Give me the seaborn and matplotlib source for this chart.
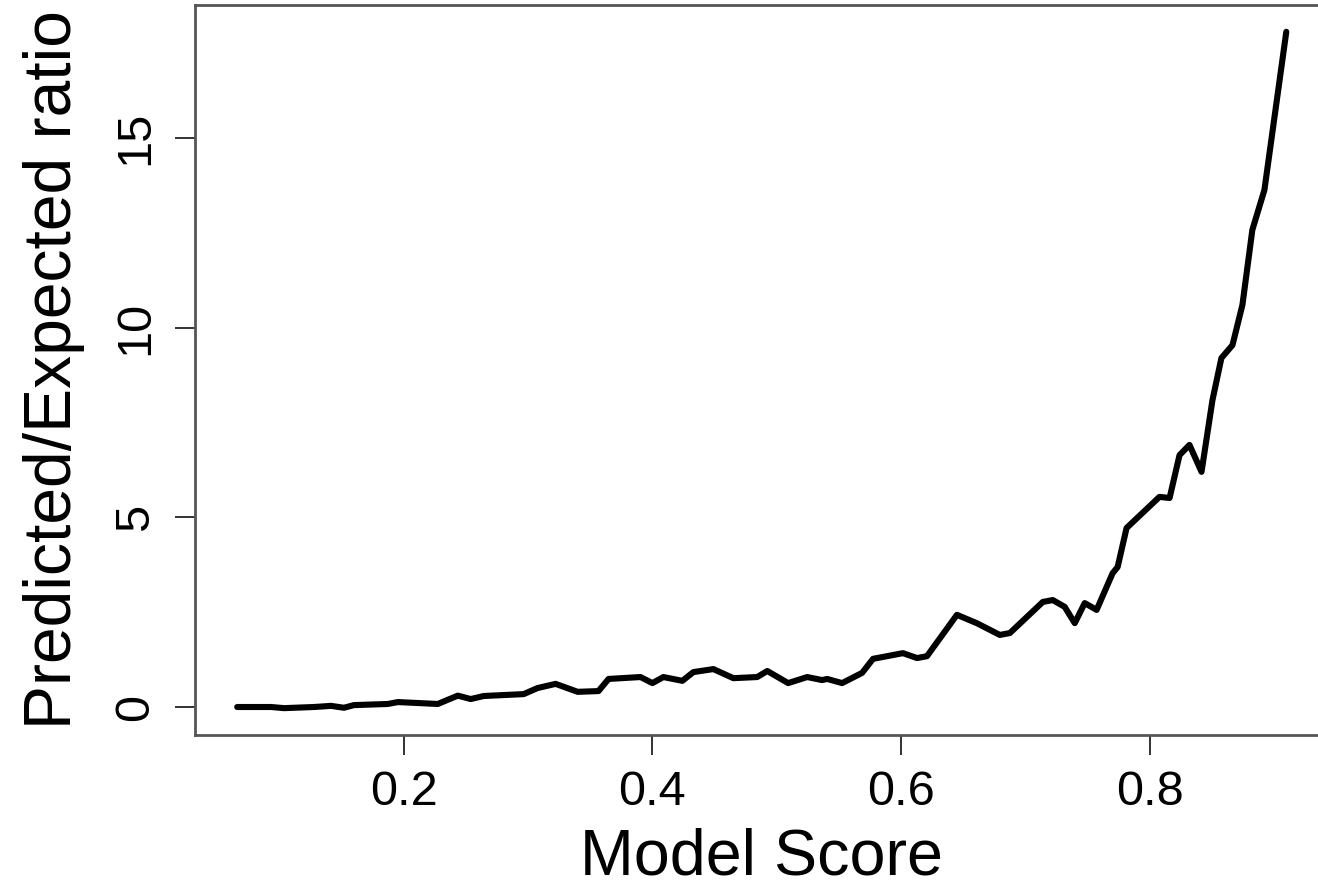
import matplotlib
matplotlib.use("Agg")
import matplotlib.pyplot as plt
import seaborn as sns
import pandas as pd

model_score = [0.0659, 0.0932, 0.1036, 0.1277, 0.1414, 0.1518, 0.1598, 0.1871, 0.1952, 0.2273,
               0.2434, 0.2538, 0.2643, 0.2964, 0.3076, 0.3221, 0.3398, 0.3566, 0.3647, 0.3904,
               0.4000, 0.4088, 0.4241, 0.4329, 0.4490, 0.4651, 0.4843, 0.4924, 0.5092, 0.5245,
               0.5365, 0.5406, 0.5526, 0.5687, 0.5775, 0.6016, 0.6129, 0.6209, 0.6450, 0.6610,
               0.6795, 0.6876, 0.7141, 0.7221, 0.7317, 0.7398, 0.7478, 0.7574, 0.7703, 0.7743,
               0.7815, 0.8080, 0.8161, 0.8241, 0.8321, 0.8418, 0.8506, 0.8578, 0.8667, 0.8747,
               0.8827, 0.8924, 0.9100]
ratio = [0.00, 0.00, -0.03, 0.00, 0.03, -0.02, 0.05, 0.08, 0.13, 0.08,
         0.30, 0.21, 0.29, 0.34, 0.50, 0.61, 0.40, 0.42, 0.74, 0.79,
         0.63, 0.79, 0.69, 0.92, 1.00, 0.76, 0.79, 0.95, 0.63, 0.79,
         0.71, 0.74, 0.63, 0.90, 1.27, 1.42, 1.29, 1.34, 2.43, 2.21,
         1.90, 1.95, 2.77, 2.82, 2.64, 2.21, 2.74, 2.56, 3.53, 3.69,
         4.72, 5.54, 5.51, 6.64, 6.91, 6.20, 8.09, 9.20, 9.54, 10.60,
         12.58, 13.63, 17.80]
x_ticks = [0.2, 0.4, 0.6, 0.8]
x_tick_labels = ["0.2", "0.4", "0.6", "0.8"]
y_ticks = [0, 5, 10, 15]
y_tick_labels = ["0", "5", "10", "15"]

sns.set_style("white")
plt.rcParams["font.family"] = ["Liberation Sans", "DejaVu Sans"]
plt.rcParams["text.color"] = "black"
plt.rcParams["axes.labelcolor"] = "black"
plt.rcParams["xtick.color"] = "black"
plt.rcParams["ytick.color"] = "black"

df = pd.DataFrame({"Model Score": model_score, "ratio": ratio})

fig = plt.figure(figsize=(13.18, 8.91), dpi=100)
ax = fig.add_axes([0.148, 0.175, 0.860, 0.8195])
sns.lineplot(data=df, x="Model Score", y="ratio", color="black", linewidth=4.4,
             sort=False, estimator=None, ax=ax)

ax.set_xlim(0.032, 0.944)
ax.set_ylim(-0.74, 18.51)
ax.set_xticks(x_ticks)
ax.set_xticklabels(x_tick_labels, fontsize=35)
ax.set_yticks(y_ticks)
ax.set_yticklabels(y_tick_labels, fontsize=35, rotation=90, va="center")
ax.tick_params(axis="both", which="major", direction="out", length=14.5, width=1.3,
               color="#222222", bottom=True, left=True, top=False, right=False,
               labelcolor="black")
ax.tick_params(axis="x", pad=11)
ax.tick_params(axis="y", pad=12)
for s in ax.spines.values():
    s.set_visible(True)
    s.set_color("#555555")
    s.set_linewidth(2.0)
ax.set_xlabel("Model Score", fontsize=46.5, labelpad=9, color="black")
ax.set_ylabel("Predicted/Expected ratio", fontsize=47.5, labelpad=20, color="black")

fig.savefig("out.png", dpi=100)
